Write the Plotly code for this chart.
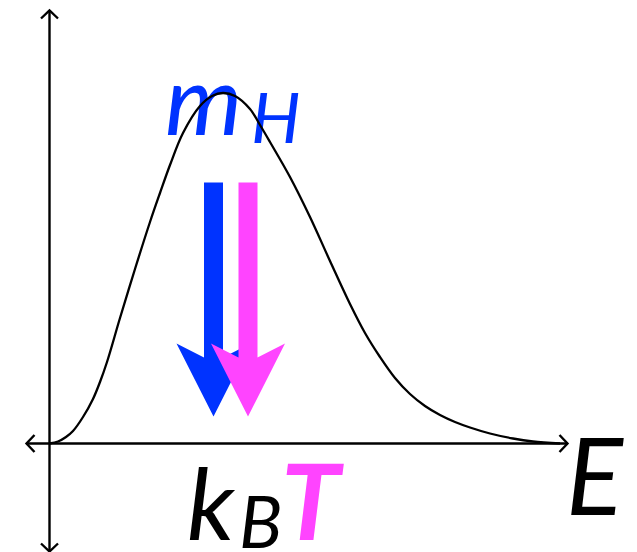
import plotly.graph_objects as go

# Energy distribution curve (arbitrary units, origin at the axes' crossing)
energy = [0, 8.5, 16.5, 23.5, 33.5, 43.5, 50.5, 57.5, 70.5, 85.5, 100.5, 110.5,
          120.5, 133.5, 150.5, 162.5, 173.5, 185.5, 200.5, 210.5, 220.5, 240.5,
          260.5, 280.5, 300.5, 315.5, 330.5, 345.5, 360.5, 375.5, 390.5, 405.5,
          420.5, 440.5, 463.5, 483.5, 510.5]
density = [0, 2, 6.5, 12.5, 26.5, 44.5, 61.5, 81.5, 125.5, 174.5, 221.5, 250.5,
           278.5, 310.5, 337.5, 347.5, 350.5, 347.5, 334.5, 318.5, 301.5, 266.5,
           226.5, 182.5, 139.5, 110.5, 86.5, 65.5, 49.5, 37.5, 28.5, 21.5,
           16, 10, 5, 2, 0]

# Axis extents
x_axis_span = [-23, 518]
y_axis_span = [-108, 433]

# Downward arrows: energy position and vertical extent
arrow_names = ["m_H", "k_B T"]
arrow_x = [164, 198.5]
arrow_top = [261, 261]
arrow_tip = [27, 27]
arrow_colors = ["#0033ff", "#ff44ff"]

W, H = 637, 552
X0, Y0 = 49.5, 443.5  # page position of the origin

fig = go.Figure()

FONT = "Lato"


def label(txt, left, baseline, size, color, bold=False):
    """Place italic text with its start at `left` and baseline at `baseline` (page px)."""
    # with textposition 'middle right' the baseline sits 0.25*size below the point
    fig.add_trace(go.Scatter(
        x=[left - X0], y=[Y0 - (baseline - 0.25 * size)],
        mode="text", text=[txt], textposition="middle right",
        textfont=dict(family=FONT, size=size, color=color, style="italic",
                      weight="bold" if bold else "normal"),
        cliponaxis=False, hoverinfo="skip"))


blue, pink = arrow_colors
label("m", 165, 135, 98, blue)
label("H", 251, 143, 70, blue)
label("k", 187, 540, 100, "black")
label("B", 239, 548, 72, "black")
label("T", 281, 540, 106, pink, bold=True)
label("E", 566, 515, 106, "black")

# axis lines
axis_style = dict(color="black", width=2.4)
fig.add_trace(go.Scatter(x=x_axis_span, y=[0, 0], mode="lines", line=axis_style, hoverinfo="skip"))
fig.add_trace(go.Scatter(x=[0, 0], y=y_axis_span, mode="lines", line=axis_style, hoverinfo="skip"))

# open chevron heads at every axis end
hw, depth = 8.5, 8
chev = [
    ([x_axis_span[0] + depth, x_axis_span[0], x_axis_span[0] + depth], [hw, 0, -hw]),
    ([x_axis_span[1] - depth, x_axis_span[1], x_axis_span[1] - depth], [hw, 0, -hw]),
    ([-hw, 0, hw], [y_axis_span[0] + depth, y_axis_span[0], y_axis_span[0] + depth]),
    ([-hw, 0, hw], [y_axis_span[1] - depth, y_axis_span[1], y_axis_span[1] - depth]),
]
for cx, cy in chev:
    fig.add_trace(go.Scatter(x=cx, y=cy, mode="lines", line=axis_style, hoverinfo="skip"))

# distribution curve, drawn above the labels
fig.add_trace(go.Scatter(x=energy, y=density, mode="lines",
                         line=dict(color="black", width=2.3, shape="spline", smoothing=1.0),
                         hoverinfo="skip"))

# block arrows with swept-back heads
shaft_hw, head_hw, head_len, notch = 9.5, 37, 73, 14
for name, cx, top, tip, col in zip(arrow_names, arrow_x, arrow_top, arrow_tip, arrow_colors):
    yc = tip + head_len
    yn = yc - notch
    xs = [cx - shaft_hw, cx + shaft_hw, cx + shaft_hw, cx + head_hw, cx,
          cx - head_hw, cx - shaft_hw, cx - shaft_hw]
    ys = [top, top, yn, yc, tip, yc, yn, top]
    fig.add_trace(go.Scatter(x=xs, y=ys, mode="lines", fill="toself", fillcolor=col,
                             line=dict(width=0, color=col), name=name, hoverinfo="skip"))

fig.update_layout(
    width=W, height=H,
    margin=dict(l=0, r=0, t=0, b=0),
    paper_bgcolor="white", plot_bgcolor="white",
    showlegend=False,
    xaxis=dict(range=[-X0, W - X0], visible=False, fixedrange=True),
    yaxis=dict(range=[Y0 - H, Y0], visible=False, fixedrange=True),
)

fig.write_html("out.html")
